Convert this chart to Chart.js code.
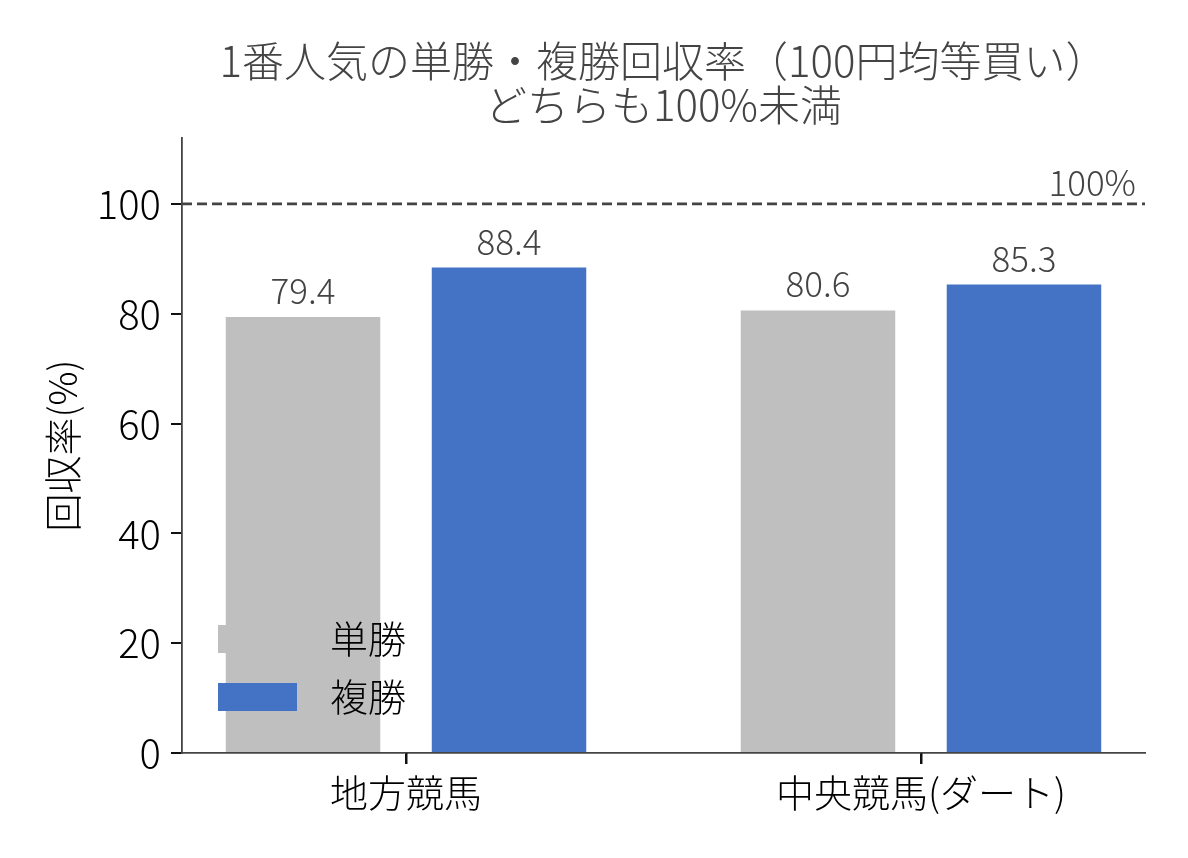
<!DOCTYPE html>
<html>
<head>
<meta charset="utf-8">
<script src="https://cdn.jsdelivr.net/npm/chart.js@4/dist/chart.umd.min.js"></script>
<style>
html,body{margin:0;padding:0;background:#fff;}
#wrap{width:1188px;height:858px;}
</style>
</head>
<body>
<div id="wrap"><canvas id="c" width="1188" height="858"></canvas></div>
<script>
const categories = ['地方競馬', '中央競馬(ダート)'];
const seriesNames = ['単勝', '複勝'];
const tanshoValues = [79.4, 80.6];
const fukushoValues = [88.4, 85.3];
const yTicks = [0, 20, 40, 60, 80, 100];
const referenceValue = 100;
const referenceLabel = '100%';
const titleLines = ['1番人気の単勝・複勝回収率（100円均等買い）', 'どちらも100%未満'];
const yAxisTitle = '回収率(%)';

const FONT = "'Noto Sans CJK JP', 'Noto Sans', sans-serif";
const W = 300;
const colors = ['#bfbfbf', '#4472c4'];

function toPoints(vals) { return vals.map((v, i) => ({ x: i, y: v })); }

const titlePlugin = {
  id: 'centeredTitle',
  afterDraw(chart) {
    const { ctx, chartArea } = chart;
    const cx = (chartArea.left + chartArea.right) / 2;
    ctx.save();
    ctx.fillStyle = '#444';
    ctx.font = W + " 42px " + FONT;
    ctx.textAlign = 'center';
    ctx.textBaseline = 'middle';
    titleLines.forEach((t, i) => ctx.fillText(t, cx, 61 + i * 44));
    ctx.restore();
  }
};

const xTickMarks = {
  id: 'xTickMarks',
  afterDraw(chart) {
    const { ctx, chartArea } = chart;
    const xs = chart.scales.x;
    ctx.save();
    ctx.strokeStyle = '#111';
    ctx.lineWidth = 2;
    xs.ticks.forEach((t, i) => {
      const px = Math.round(xs.getPixelForTick(i)) + 0.5;
      ctx.beginPath();
      ctx.moveTo(px, chartArea.bottom);
      ctx.lineTo(px, chartArea.bottom + 11);
      ctx.stroke();
    });
    ctx.restore();
  }
};

const refLinePlugin = {
  id: 'refLine',
  afterDatasetsDraw(chart) {
    const { ctx, chartArea } = chart;
    const y = chart.scales.y.getPixelForValue(referenceValue);
    ctx.save();
    ctx.strokeStyle = '#444';
    ctx.lineWidth = 2.6;
    ctx.setLineDash([10, 5]);
    ctx.beginPath();
    ctx.moveTo(chartArea.left, y);
    ctx.lineTo(chartArea.right, y);
    ctx.stroke();
    ctx.setLineDash([]);
    ctx.fillStyle = '#444';
    ctx.font = W + " 35px " + FONT;
    ctx.textAlign = 'right';
    ctx.textBaseline = 'alphabetic';
    ctx.fillText(referenceLabel, chartArea.right - 9, y - 8);
    ctx.restore();
  }
};

const valueLabelPlugin = {
  id: 'valueLabels',
  afterDatasetsDraw(chart) {
    const { ctx } = chart;
    ctx.save();
    ctx.fillStyle = '#444';
    ctx.font = W + " 35px " + FONT;
    ctx.textAlign = 'center';
    ctx.textBaseline = 'alphabetic';
    chart.data.datasets.forEach((ds, di) => {
      const meta = chart.getDatasetMeta(di);
      meta.data.forEach((bar, i) => {
        const v = ds.data[i].y;
        ctx.fillText(v.toFixed(1), bar.x, bar.y - 13);
      });
    });
    ctx.restore();
  }
};

const legendPlugin = {
  id: 'innerLegend',
  afterDatasetsDraw(chart) {
    const { ctx, chartArea } = chart;
    ctx.save();
    ctx.font = W + " 38px " + FONT;
    ctx.textBaseline = 'middle';
    ctx.textAlign = 'left';
    const x0 = chartArea.left + 36;
    const rowH = 58;
    const n = chart.data.datasets.length;
    const lastCenter = chartArea.bottom - 56;
    chart.data.datasets.forEach((ds, i) => {
      const cy = lastCenter - (n - 1 - i) * rowH;
      ctx.fillStyle = ds.backgroundColor;
      ctx.fillRect(x0, cy - 14, 79, 28);
      ctx.fillStyle = '#000';
      ctx.fillText(ds.label, x0 + 112, cy);
    });
    ctx.restore();
  }
};

new Chart(document.getElementById('c'), {
  type: 'bar',
  data: {
    datasets: [
      { label: seriesNames[0], data: toPoints(tanshoValues), backgroundColor: colors[0] },
      { label: seriesNames[1], data: toPoints(fukushoValues), backgroundColor: colors[1] }
    ]
  },
  options: {
    responsive: false,
    animation: false,
    devicePixelRatio: 1,
    categoryPercentage: 0.8,
    barPercentage: 0.75,
    layout: { padding: { left: 0, right: 43, top: 138, bottom: 0 } },
    plugins: {
      legend: { display: false },
      tooltip: { enabled: false },
      title: { display: false }
    },
    scales: {
      x: {
        type: 'linear',
        offset: false,
        min: -0.435,
        max: 1.435,
        afterBuildTicks(scale) { scale.ticks = categories.map((c, i) => ({ value: i })); },
        afterFit(scale) { scale.height = 105; },
        ticks: {
          color: '#000',
          padding: 6,
          font: { family: FONT, size: 38, weight: W },
          callback: (v) => categories[v] ?? ''
        },
        grid: { offset: false, drawOnChartArea: false, drawTicks: true, tickLength: 11, color: '#111', lineWidth: 2 },
        border: { display: true, color: '#444', width: 1.8 }
      },
      y: {
        min: 0,
        max: 112,
        afterBuildTicks(scale) { scale.ticks = yTicks.map(v => ({ value: v })); },
        afterFit(scale) { scale.width = 182; },
        ticks: {
          color: '#000',
          padding: 10,
          font: { family: FONT, size: 40, weight: W }
        },
        title: {
          display: true,
          text: yAxisTitle,
          color: '#000',
          font: { family: FONT, size: 38, weight: W },
          padding: { top: 40, bottom: 0 }
        },
        grid: { drawOnChartArea: false, drawTicks: true, tickLength: 11, color: '#111', lineWidth: 2 },
        border: { display: true, color: '#444', width: 1.8 }
      }
    }
  },
  plugins: [titlePlugin, xTickMarks, refLinePlugin, valueLabelPlugin, legendPlugin]
});
</script>
</body>
</html>
